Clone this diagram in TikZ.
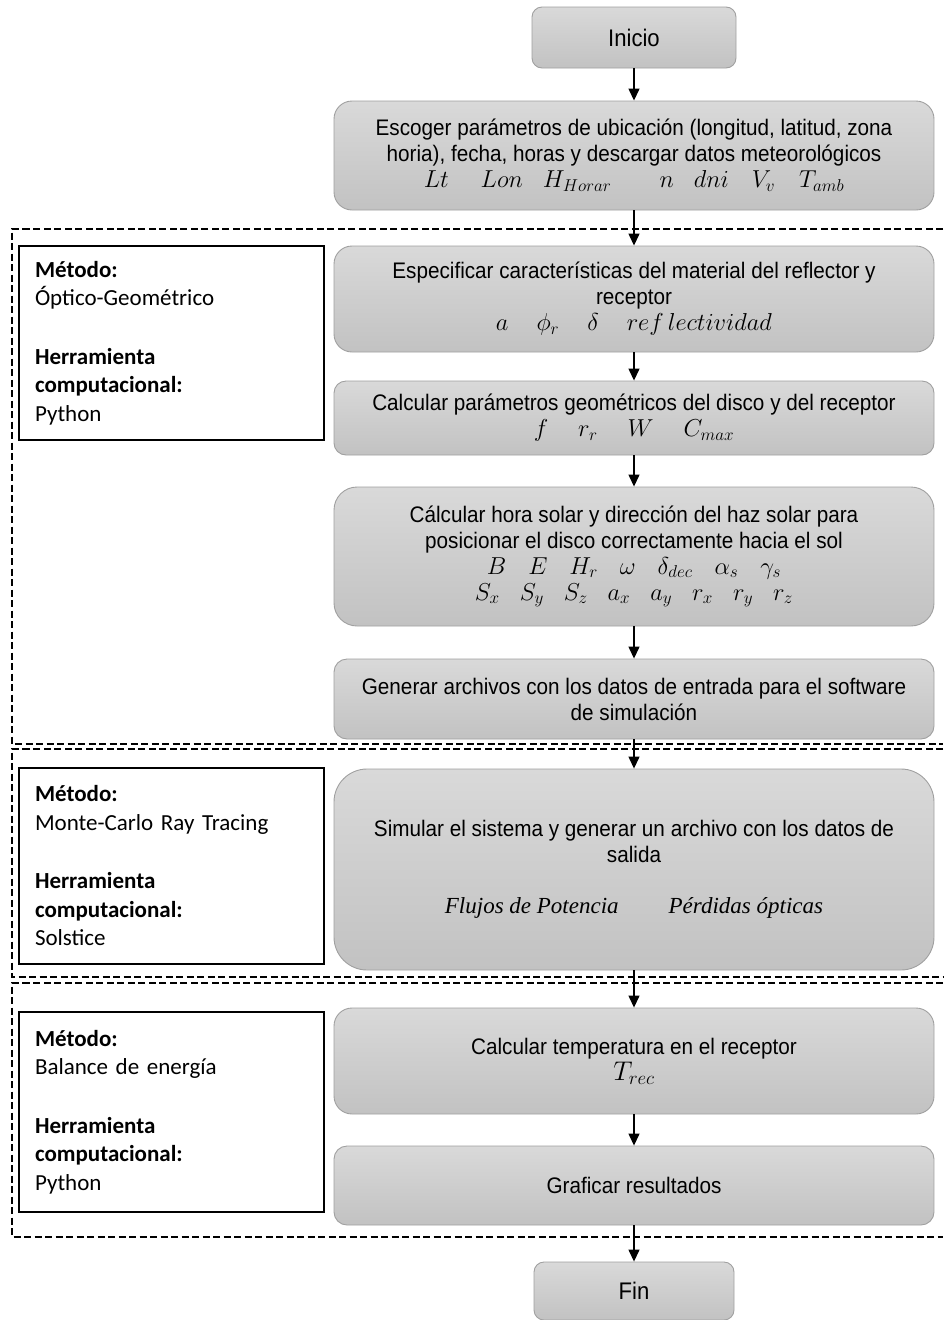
\RequirePackage{fix-cm}
\documentclass[tikz,border=0pt]{standalone}
\usepackage{fontspec}
\setmainfont{Liberation Sans}
\newfontfamily\boxfont{Liberation Sans}[FakeStretch=0.92]
\newfontfamily\notefont{Carlito}
\newfontfamily\varfont{Liberation Serif}
\usetikzlibrary{arrows.meta}

\definecolor{boxtop}{HTML}{D9D9D9}
\definecolor{boxbot}{HTML}{C2C2C2}
\definecolor{boxline}{HTML}{A0A0A0}

% a row of variable symbols, set a little larger than the text
\newcommand\symrow[1]{{\fontsize{24.5}{26}\selectfont$#1$}}
% italic words standing for output quantities
\newcommand\qword[1]{{\varfont\itshape\fontsize{23}{26}\selectfont #1}}

\tikzset{
  stepbox/.style={draw=boxline, line width=0.9pt, top color=boxtop, bottom color=boxbot,
    align=center, inner sep=0pt, font=\boxfont\fontsize{22.5}{26}\selectfont},
  termbox/.style={stepbox, font=\boxfont\fontsize{24}{28}\selectfont},
  notebox/.style={draw=black, line width=1.3pt, fill=white, text width=273pt,
    inner xsep=16pt, inner ysep=0pt, align=left,
    font=\notefont\fontsize{23}{28.5}\selectfont},
  flow/.style={-{Triangle[length=12pt,width=11pt]}, line width=1.3pt},
  groupline/.style={dash pattern=on 7pt off 3.5pt, line width=1.3pt},
}

\begin{document}
\begin{tikzpicture}[x=1pt,y=-1pt]
\useasboundingbox (0,0) rectangle (943,1320);

% dashed method groups
\draw[groupline] (943,229) -- (12,229) -- (12,744) -- (943,744);
\draw[groupline] (943,749) -- (12,749) -- (12,977) -- (943,977);
\draw[groupline] (943,983) -- (12,983) -- (12,1237) -- (943,1237);

% main flow
\node[termbox, minimum width=204pt, minimum height=61pt, rounded corners=10pt] (inicio) at (634,37.5) {Inicio};

\node[stepbox, minimum width=600pt, minimum height=109pt, rounded corners=18pt] (esc) at (634,155.5)
  {Escoger parámetros de ubicación (longitud, latitud, zona\\
   horia), fecha, horas y descargar datos meteorológicos\\
   \symrow{Lt\hspace{32pt}Lon\hspace{20pt}H_{Horar}\hspace{48pt}n\hspace{20pt}dni\hspace{23pt}V_v\hspace{24pt}T_{amb}}};

\node[stepbox, minimum width=600pt, minimum height=106pt, rounded corners=18pt] (esp) at (634,299)
  {Especificar características del material del reflector y\\
   receptor\\
   \symrow{a\hspace{28pt}\phi_r\hspace{28pt}\delta\hspace{28pt}ref\,lectividad}};

\node[stepbox, minimum width=600pt, minimum height=74pt, rounded corners=12pt] (geo) at (634,418)
  {Calcular parámetros geométricos del disco y del receptor\\
   \symrow{f\hspace{30pt}r_r\hspace{30pt}W\hspace{30pt}C_{max}}};

\node[stepbox, minimum width=600pt, minimum height=139pt, rounded corners=23pt] (sol) at (634,556.5)
  {Cálcular hora solar y dirección del haz solar para\\
   posicionar el disco correctamente hacia el sol\\
   \symrow{B\hspace{22pt}E\hspace{22pt}H_r\hspace{22pt}\omega\hspace{22pt}\delta_{dec}\hspace{22pt}\alpha_s\hspace{22pt}\gamma_s}\\
   \symrow{S_x\hspace{20pt}S_y\hspace{20pt}S_z\hspace{20pt}a_x\hspace{20pt}a_y\hspace{20pt}r_x\hspace{20pt}r_y\hspace{20pt}r_z}};

\node[stepbox, minimum width=600pt, minimum height=80pt, rounded corners=13pt] (gen) at (634,699)
  {Generar archivos con los datos de entrada para el software\\
   de simulación};

\node[stepbox, minimum width=600pt, minimum height=201pt, rounded corners=33pt] (sim) at (634,869.5)
  {Simular el sistema y generar un archivo con los datos de\\
   salida\\[25pt]
   \qword{Flujos de Potencia}\hspace{50pt}\qword{Pérdidas ópticas}};

\node[stepbox, minimum width=600pt, minimum height=106pt, rounded corners=18pt] (temp) at (634,1061)
  {Calcular temperatura en el receptor\\
   {\fontsize{27}{28}\selectfont$T_{rec}$}};

\node[stepbox, minimum width=600pt, minimum height=79pt, rounded corners=13pt] (graf) at (634,1185.5)
  {Graficar resultados};

\node[termbox, minimum width=200pt, minimum height=58pt, rounded corners=10pt] (fin) at (634,1291) {Fin};

% method notes
\node[notebox, minimum height=194pt] (m1) at (171.5,343)
  {\textbf{Método:}\\ Óptico-Geométrico\\[30pt] \textbf{Herramienta}\\ \textbf{computacional:}\\ Python};
\node[notebox, minimum height=196pt] (m2) at (171.5,866)
  {\textbf{Método:}\\ Monte-Carlo Ray Tracing\\[30pt] \textbf{Herramienta}\\ \textbf{computacional:}\\ Solstice};
\node[notebox, minimum height=200pt] (m3) at (171.5,1112)
  {\textbf{Método:}\\ Balance de energía\\[30pt] \textbf{Herramienta}\\ \textbf{computacional:}\\ Python};

% connectors
\draw[flow] (inicio.south) -- (esc.north);
\draw[flow] (esc.south) -- (esp.north);
\draw[flow] (esp.south) -- (geo.north);
\draw[flow] (geo.south) -- (sol.north);
\draw[flow] (sol.south) -- (gen.north);
\draw[flow] (gen.south) -- (sim.north);
\draw[flow] (sim.south) -- (temp.north);
\draw[flow] (temp.south) -- (graf.north);
\draw[flow] (graf.south) -- (fin.north);
\end{tikzpicture}
\end{document}
